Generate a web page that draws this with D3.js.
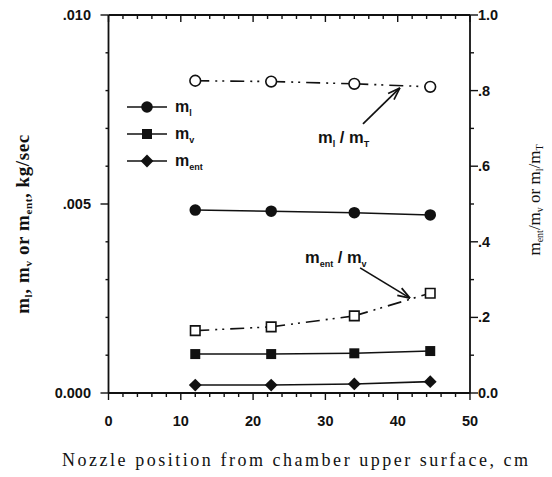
<!DOCTYPE html>
<html>
<head>
<meta charset="utf-8">
<script src="https://cdn.jsdelivr.net/npm/d3@7"></script>
<style>
  html, body { margin: 0; padding: 0; background: #fff; }
  svg { display: block; }
</style>
</head>
<body>
<svg id="chart" width="552" height="477"></svg>
<script>
// Nozzle positions (cm from chamber upper surface)
const positions = [12, 22.5, 34, 44.5];

// Mass flow rates, kg/sec (left axis)
const mLiquid = [0.00484, 0.00481, 0.00477, 0.00471];
const mVapor = [0.00103, 0.00103, 0.00105, 0.00111];
const mEntrained = [0.00021, 0.00021, 0.00024, 0.00030];

// Ratios (right axis)
const ratioLiquidTotal = [0.826, 0.824, 0.818, 0.810];
const ratioEntVapor = [0.165, 0.175, 0.204, 0.264];

// Tick values
const xTicks = [0, 10, 20, 30, 40, 50];
const xTickLabels = ["0", "10", "20", "30", "40", "50"];
const yLeftTicks = [0, 0.005, 0.010];
const yLeftTickLabels = ["0.000", ".005", ".010"];
const yRightTicks = [0, 0.2, 0.4, 0.6, 0.8, 1.0];
const yRightTickLabels = ["0.0", ".2", ".4", ".6", ".8", "1.0"];

const svg = d3.select("#chart");
const plotLeft = 108.5, plotRight = 470, plotTop = 15, plotBottom = 393;

const x = d3.scaleLinear().domain([0, 50]).range([plotLeft, plotRight]);
const yL = d3.scaleLinear().domain([0, 0.010]).range([plotBottom, plotTop]);
const yR = d3.scaleLinear().domain([0, 1]).range([plotBottom, plotTop]);

const sans = "'Liberation Sans', Arial, sans-serif";
const serif = "'Liberation Serif', 'Times New Roman', serif";
const ink = "#111";

// Frame
const frame = svg.append("g").attr("stroke", ink).attr("stroke-width", 1.8).attr("fill", "none");
frame.append("line").attr("x1", plotLeft).attr("x2", plotRight).attr("y1", plotBottom).attr("y2", plotBottom);
frame.append("line").attr("x1", plotLeft).attr("x2", plotRight).attr("y1", plotTop).attr("y2", plotTop);
frame.append("line").attr("x1", plotLeft).attr("x2", plotLeft).attr("y1", plotTop).attr("y2", plotBottom);
frame.append("line").attr("x1", plotRight).attr("x2", plotRight).attr("y1", plotTop).attr("y2", plotBottom);

const ticks = svg.append("g").attr("stroke", ink).attr("stroke-width", 1.4);

// Bottom ticks (outward) and top ticks (inward), every 2 cm
d3.range(0, 51, 2).forEach(v => {
  const major = v % 10 === 0;
  const len = major ? 7 : 4;
  ticks.append("line").attr("x1", x(v)).attr("x2", x(v)).attr("y1", plotBottom).attr("y2", plotBottom + len);
  ticks.append("line").attr("x1", x(v)).attr("x2", x(v)).attr("y1", plotTop).attr("y2", plotTop + len);
});

// Left ticks (outward), every 0.001
d3.range(0, 11).forEach(i => {
  const v = i * 0.001;
  const major = i % 5 === 0;
  ticks.append("line").attr("x1", plotLeft - (major ? 8 : 3)).attr("x2", plotLeft)
    .attr("y1", yL(v)).attr("y2", yL(v));
});

// Right ticks (outward), every 0.1
d3.range(0, 11).forEach(i => {
  const v = i / 10;
  const major = i % 2 === 0;
  ticks.append("line").attr("x1", plotRight).attr("x2", plotRight + (major ? 8 : 4))
    .attr("y1", yR(v)).attr("y2", yR(v));
});

// Tick labels
const labels = svg.append("g").attr("font-family", sans).attr("font-weight", "bold")
  .attr("font-size", 14.5).attr("fill", ink);
xTicks.forEach((v, i) => {
  labels.append("text").attr("x", x(v)).attr("y", 426).attr("text-anchor", "middle").text(xTickLabels[i]);
});
yLeftTicks.forEach((v, i) => {
  labels.append("text").attr("x", 91).attr("y", yL(v) + 5).attr("text-anchor", "end").text(yLeftTickLabels[i]);
});
yRightTicks.forEach((v, i) => {
  labels.append("text").attr("x", 478).attr("y", yR(v) + 5).attr("text-anchor", "start").text(yRightTickLabels[i]);
});

// Axis titles
svg.append("text")
  .attr("x", 295).attr("y", 466).attr("text-anchor", "middle")
  .attr("font-family", serif).attr("font-size", 18).attr("fill", ink)
  .attr("textLength", 466).attr("lengthAdjust", "spacing")
  .text("Nozzle position from chamber upper surface, cm");

function subText(sel, parts) {
  parts.forEach(p => {
    const t = sel.append("tspan").text(p.t);
    if (p.sub) t.attr("font-size", p.sub).attr("dy", p.dy);
    else if (p.dy) t.attr("dy", p.dy);
  });
}

const leftTitle = svg.append("text")
  .attr("transform", "translate(29,224) rotate(-90)")
  .attr("text-anchor", "middle")
  .attr("font-family", serif).attr("font-weight", "bold").attr("font-size", 19).attr("fill", ink)
  .attr("letter-spacing", 0.6);
subText(leftTitle, [
  { t: "m" }, { t: "l", sub: 11, dy: 3 }, { t: ", m", dy: -3 }, { t: "v", sub: 11, dy: 3 },
  { t: " or m", dy: -3 }, { t: "ent", sub: 11, dy: 3 }, { t: ", kg/sec", dy: -3 }
]);

const rightTitle = svg.append("text")
  .attr("transform", "translate(540,200) rotate(-90)")
  .attr("text-anchor", "middle")
  .attr("font-family", serif).attr("font-size", 17).attr("fill", ink);
subText(rightTitle, [
  { t: "m" }, { t: "ent", sub: 10, dy: 3 }, { t: "/m", dy: -3 }, { t: "v", sub: 10, dy: 3 },
  { t: " or m", dy: -3 }, { t: "l", sub: 10, dy: 3 }, { t: "/m", dy: -3 }, { t: "T", sub: 10, dy: 3 }
]);

// Series
const dashDotDot = "14,6,2,5,2,6";
const series = [
  { values: mLiquid, y: yL, marker: "circle", filled: true, dash: null },
  { values: mVapor, y: yL, marker: "square", filled: true, dash: null },
  { values: mEntrained, y: yL, marker: "diamond", filled: true, dash: null },
  { values: ratioLiquidTotal, y: yR, marker: "circle", filled: false, dash: dashDotDot },
  { values: ratioEntVapor, y: yR, marker: "square", filled: false, dash: dashDotDot }
];

// Diamond marker: a square turned 45 degrees
const symbolPath = {
  circle: d3.symbol().type(d3.symbolCircle).size(105)(),
  square: d3.symbol().type(d3.symbolSquare).size(100)(),
  diamond: d3.symbol().type(d3.symbolSquare).size(82)()
};
const symbolRotate = { circle: 0, square: 0, diamond: 45 };
const openSymbolPath = {
  circle: d3.symbol().type(d3.symbolCircle).size(90)(),
  square: d3.symbol().type(d3.symbolSquare).size(90)()
};

const plot = svg.append("g");
series.forEach(s => {
  const pts = positions.map((p, i) => [x(p), s.y(s.values[i])]);
  // Each segment is stroked separately so the dash pattern starts fresh at every marker
  for (let i = 0; i < pts.length - 1; i++) {
    plot.append("path")
      .attr("d", d3.line()([pts[i], pts[i + 1]]))
      .attr("fill", "none").attr("stroke", ink).attr("stroke-width", 1.6)
      .attr("stroke-dasharray", s.dash);
  }
  pts.forEach(pt => {
    const m = plot.append("path")
      .attr("transform", `translate(${pt[0]},${pt[1]}) rotate(${symbolRotate[s.marker]})`);
    if (s.filled) {
      m.attr("d", symbolPath[s.marker]).attr("fill", ink);
    } else {
      m.attr("d", openSymbolPath[s.marker]).attr("fill", "#fff")
        .attr("stroke", ink).attr("stroke-width", 1.6);
    }
  });
});

// Legend
const legendRows = [
  { marker: "circle", label: "l", y: 107 },
  { marker: "square", label: "v", y: 134 },
  { marker: "diamond", label: "ent", y: 161 }
];
const legend = svg.append("g");
legendRows.forEach(r => {
  legend.append("line").attr("x1", 127).attr("x2", 167).attr("y1", r.y).attr("y2", r.y)
    .attr("stroke", ink).attr("stroke-width", 1.6);
  legend.append("path").attr("d", symbolPath[r.marker])
    .attr("transform", `translate(147,${r.y}) rotate(${symbolRotate[r.marker]})`).attr("fill", ink);
  const t = legend.append("text").attr("x", 175).attr("y", r.y + 5)
    .attr("font-family", sans).attr("font-weight", "bold").attr("font-size", 16).attr("fill", ink);
  subText(t, [{ t: "m" }, { t: r.label, sub: 9, dy: 4 }]);
});

// Annotations with open arrowheads
function arrow(x1, y1, x2, y2) {
  const g = svg.append("g").attr("stroke", ink).attr("stroke-width", 1.7).attr("fill", "none");
  g.append("line").attr("x1", x1).attr("y1", y1).attr("x2", x2).attr("y2", y2);
  const a = Math.atan2(y2 - y1, x2 - x1);
  const len = 13, spread = 0.33;
  [a + Math.PI - spread, a + Math.PI + spread].forEach(b => {
    g.append("line").attr("x1", x2).attr("y1", y2)
      .attr("x2", x2 + len * Math.cos(b)).attr("y2", y2 + len * Math.sin(b));
  });
}

arrow(x(35.2), yR(0.712), x(40.3), yR(0.807));
arrow(x(34.8), yR(0.331), x(41.7), yR(0.251));

const ann1 = svg.append("text").attr("x", 318).attr("y", 143)
  .attr("font-family", sans).attr("font-weight", "bold").attr("font-size", 16.5).attr("fill", ink);
subText(ann1, [{ t: "m" }, { t: "l", sub: 9, dy: 4 }, { t: " / m", dy: -4 }, { t: "T", sub: 9, dy: 4 }]);

const ann2 = svg.append("text").attr("x", 305).attr("y", 263)
  .attr("font-family", sans).attr("font-weight", "bold").attr("font-size", 16.5).attr("fill", ink);
subText(ann2, [{ t: "m" }, { t: "ent", sub: 9, dy: 4 }, { t: " / m", dy: -4 }, { t: "v", sub: 9, dy: 4 }]);
</script>
</body>
</html>
